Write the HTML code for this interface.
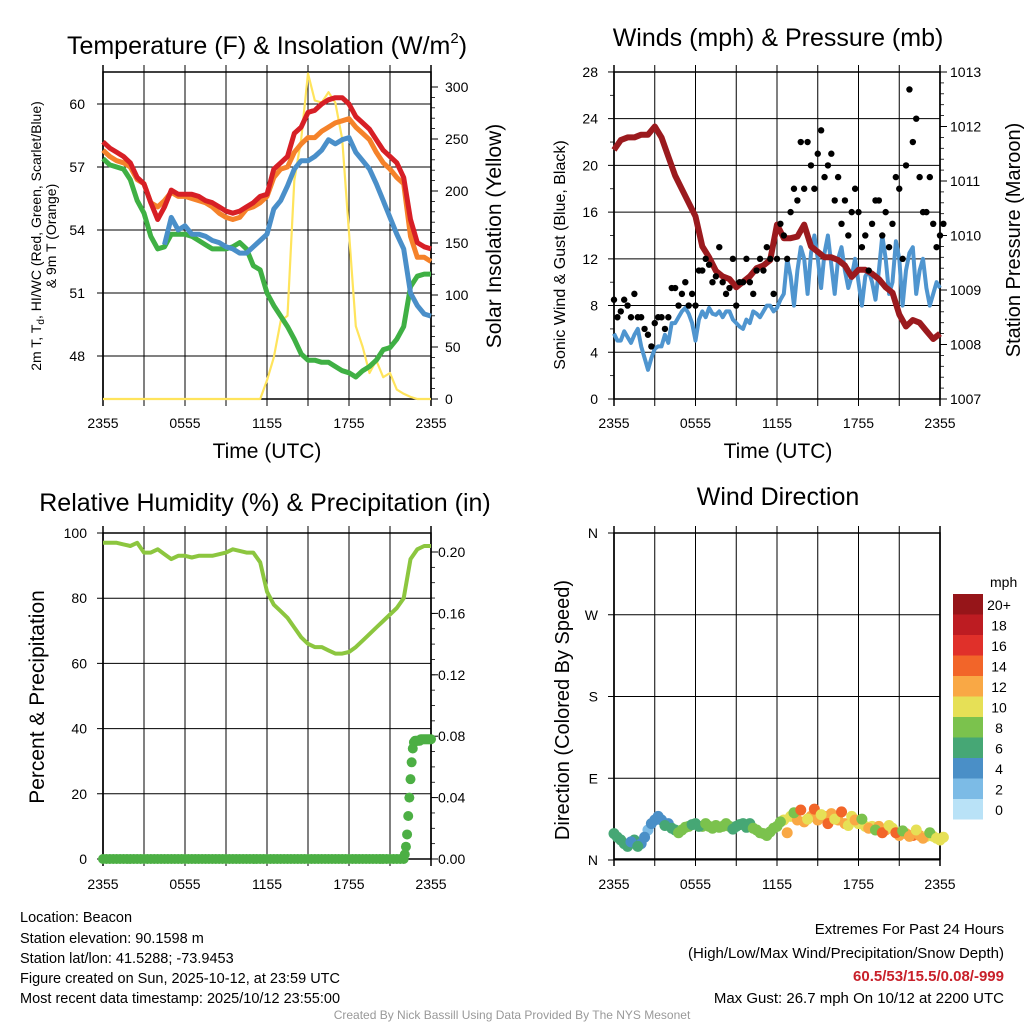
<!DOCTYPE html>
<html><head><meta charset="utf-8">
<style>
html,body{margin:0;padding:0;background:#fff;}
svg{display:block;font-family:"Liberation Sans",Arial,sans-serif;}
</style></head>
<body>
<svg id="chart" width="1024" height="1024" viewBox="0 0 1024 1024" xmlns="http://www.w3.org/2000/svg">
<rect width="1024" height="1024" fill="#fff"/>
<text x="267" y="54" text-anchor="middle" font-size="25">Temperature (F) &amp; Insolation (W/m<tspan font-size="15" dy="-11">2</tspan><tspan dy="11">)</tspan></text>
<text x="778" y="46" text-anchor="middle" font-size="25">Winds (mph) &amp; Pressure (mb)</text>
<text x="265" y="511" text-anchor="middle" font-size="25">Relative Humidity (%) &amp; Precipitation (in)</text>
<text x="778" y="505" text-anchor="middle" font-size="25">Wind Direction</text>
<text x="267" y="458" text-anchor="middle" font-size="21">Time (UTC)</text>
<text x="778" y="458" text-anchor="middle" font-size="21">Time (UTC)</text>
<text transform="translate(41,236) rotate(-90)" text-anchor="middle" font-size="14">2m T, T<tspan font-size="10" dy="3">d</tspan><tspan dy="-3">, HI/WC (Red, Green, Scarlet/Blue)</tspan></text>
<text transform="translate(56,236) rotate(-90)" text-anchor="middle" font-size="14">&amp; 9m T (Orange)</text>
<text transform="translate(501,236) rotate(-90)" text-anchor="middle" font-size="21">Solar Insolation (Yellow)</text>
<text transform="translate(565,255) rotate(-90)" text-anchor="middle" font-size="16">Sonic Wind &amp; Gust (Blue, Black)</text>
<text transform="translate(1020,240) rotate(-90)" text-anchor="middle" font-size="20">Station Pressure (Maroon)</text>
<text transform="translate(44,697) rotate(-90)" text-anchor="middle" font-size="21">Percent &amp; Precipitation</text>
<text transform="translate(569,710) rotate(-90)" text-anchor="middle" font-size="20">Direction (Colored By Speed)</text>
<g font-size="14.5">
<text x="20" y="922">Location: Beacon</text>
<text x="20" y="943">Station elevation: 90.1598 m</text>
<text x="20" y="963">Station lat/lon: 41.5288; -73.9453</text>
<text x="20" y="983">Figure created on Sun, 2025-10-12, at 23:59 UTC</text>
<text x="20" y="1003">Most recent data timestamp: 2025/10/12 23:55:00</text>
</g>
<g font-size="15" text-anchor="end">
<text x="1004" y="934">Extremes For Past 24 Hours</text>
<text x="1004" y="958">(High/Low/Max Wind/Precipitation/Snow Depth)</text>
<text x="1004" y="981" fill="#c8202a" font-weight="bold">60.5/53/15.5/0.08/-999</text>
<text x="1004" y="1003">Max Gust: 26.7 mph On 10/12 at 2200 UTC</text>
</g>
<text x="512" y="1019" text-anchor="middle" font-size="12" fill="#999">Created By Nick Bassill Using Data Provided By The NYS Mesonet</text>
</svg>
<script>
// ---- data (half-hourly from 2355 UTC) ----
const timeLabels = ["2355","0555","1155","1755","2355"];
const tempRed = [58.2,57.9,57.7,57.5,57.2,56.5,56.2,55.3,54.5,55.1,55.9,55.7,55.7,55.7,55.6,55.4,55.3,55.1,54.9,54.8,54.9,55.1,55.3,55.6,55.7,56.9,57.2,57.5,58.6,58.9,59.6,59.7,60.0,60.2,60.3,60.3,60.0,59.4,59.1,58.8,58.3,57.8,57.5,57.2,56.5,54.5,53.4,53.2,53.1];
const tempOrange = [57.8,57.5,57.3,57.2,57.0,56.4,56.2,55.3,55.1,55.4,55.8,55.6,55.6,55.5,55.4,55.3,55.1,54.8,54.6,54.5,54.6,55.0,55.1,55.3,55.6,56.5,56.9,57.0,57.7,58.1,58.4,58.4,58.7,58.9,59.1,59.2,59.3,58.9,58.6,58.3,57.7,57.2,56.9,56.5,56.2,53.7,52.7,52.7,52.5];
const tempGreen = [57.4,57.1,57.0,56.9,56.4,55.4,54.8,53.7,53.1,53.2,53.8,53.8,53.8,53.7,53.5,53.3,53.1,53.1,53.1,53.2,53.4,53.1,52.3,52.1,51.0,50.4,49.9,49.4,48.8,48.1,47.8,47.8,47.7,47.7,47.5,47.3,47.2,47.0,47.3,47.5,47.8,48.3,48.4,48.8,49.4,51.3,51.8,51.9,51.9];
const tempBlue = [null,null,null,null,null,null,null,null,null,53.3,54.6,54.0,54.2,53.8,53.8,53.7,53.5,53.4,53.2,53.1,52.9,52.9,53.2,53.5,53.8,55.0,55.4,56.1,56.9,57.3,57.3,57.5,57.8,58.3,58.1,58.3,58.4,57.7,57.3,56.9,56.2,55.4,54.6,53.8,53.1,51.0,50.4,50.0,49.9];
const solar = [0,0,0,0,0,0,0,0,0,0,0,0,0,0,0,0,0,0,0,0,0,0,0,0,18,40,75,80,210,250,313,287,285,295,285,250,160,70,50,25,37,21,25,9,5,2,0,0,0];
const windSpeed = [5.6,5.0,5.3,5.5,4.5,2.5,4.3,4.5,4.8,6.5,7.5,7.3,5.0,7.5,7.8,7.2,7.0,7.5,6.5,6.0,6.5,7.3,7.5,8.0,7.8,9.0,10.5,11,12,12.5,12,12.5,11.5,12,11,10.5,10,10.5,10,11,12,10,12,11,13,11,9.5,9,9.5];
const windSpeedQ = [5.0,5.8,4.8,6.0,3.5,3.5,4.5,5.5,6.5,7.0,7.8,6.5,6.8,7.0,7.3,7.5,7.5,6.8,6.2,6.8,7.5,7.0,8.0,7.5,8.5,12,8,13,9,14,9.5,14,9,13,9.5,12,8,11,8.5,14,9,13.5,8,12.5,9,12,8,10,9];
const gustA = [8.5,7.5,8,9,7,5.5,6.5,7,7,9.5,9,8,8,11,11.5,10.5,10,9.5,8,10,10,11,11,12,12,14,16,17,18,20,21,19,21,19,17,16,16,14,15,17,16,15,18,20,22,19,16,15,14];
const gustB = [7,8.5,7,7,6,4.5,7,6,9.5,8,10,9,11,12,10,13,9,12,10,12,9,12,13,9,15,12,18,22,22,18,23,20,17,15,14,18,13,11,17,14,13,19,12,26.5,24,16,19,13,15];
const pressure = [1011.57,1011.75,1011.8,1011.8,1011.85,1011.85,1012.0,1011.8,1011.45,1011.1,1010.85,1010.6,1010.35,1009.8,1009.6,1009.35,1009.25,1009.2,1009.05,1009.15,1009.25,1009.4,1009.45,1009.55,1010.2,1009.95,1009.95,1009.98,1010.2,1009.8,1009.7,1009.6,1009.6,1009.55,1009.45,1009.24,1009.37,1009.37,1009.3,1009.2,1009.05,1008.95,1008.55,1008.33,1008.45,1008.4,1008.25,1008.1,1008.2];
const humidity = [97,97,97,96.5,96,97,94,94,95,93.5,92,93,93,92.5,93,93,93,93.5,94,95,94.5,94,94,91,82,78,76,74,71,68,66,65,65,64,63,63,63.5,65,67,69,71,73,75,77,80,92,95,96,96];
const precipEarly = [0,0,0,0,0,0,0,0,0,0,0,0,0,0,0,0,0,0,0,0,0,0,0,0,0,0,0,0,0,0,0,0,0,0,0,0,0,0,0,0,0,0,0,0,0,0,0,0,0,0,0,0,0,0,0,0,0,0,0,0,0,0,0,0,0,0,0,0,0,0,0,0,0,0,0,0,0,0,0,0,0,0,0,0,0,0,0,0];
const precipLate = [0,0.003,0.008,0.016,0.028,0.040,0.052,0.063,0.072,0.076,0.077,0.077,0.077,0.077,0.077,0.078,0.078,0.078,0.078,0.078,0.078,0.078,0.078,0.078,0.078];
const dirA = [29,22,15,22,18,33,44,44,40,33,33,37,40,37,37,38,37,37,37,40,40,33,29,31,37,44,48,44,42,48,44,48,51,44,40,48,40,37,37,37,33,35,27,29,27,27,26,26,22];
const dirB = [25,18,20,15,25,40,48,38,35,30,36,39,37,40,35,36,40,34,39,36,35,30,27,35,42,30,52,55,45,56,50,40,45,53,38,44,45,35,33,30,38,30,32,26,33,24,30,24,25];
const tempTicks = [48,51,54,57,60];
const solarTicks = [0,50,100,150,200,250,300];
const windTicks = [0,4,8,12,16,20,24,28];
const pressTicks = [1007,1008,1009,1010,1011,1012,1013];
const rhTicks = [0,20,40,60,80,100];
const precipTicks = [0,0.04,0.08,0.12,0.16,0.20];
const dirTicks = [0,90,180,270,360];
const dirLabels = ["N","E","S","W","N"];
const legendLabels = ["20+","18","16","14","12","10","8","6","4","2","0"];
const legendColors = ["#961519","#bd1c22","#e0302a","#f26529","#f9a845","#e6e056","#7bc24d","#46a775","#4a8fc7","#7cbbe6","#b9e2f7"];

// ---- axis functions ----
const L1=103,R1=431,T1=72,B1=399, L2=614,R2=940, T3=533,B3=859;
const x1 = h => L1 + h*(R1-L1)/24;
const x2 = h => L2 + h*(R2-L2)/24;
const yT = t => 104 + (60-t)*21;
const yS = s => 399 - s*1.04;
const yW = m => 399 - m*11.68;
const yP = p => 399 - (p-1007)*54.5;
const yR = r => 859 - r*3.26;
const yPr = v => 859 - v*1535;
const yD = d => 860 - d*0.9083;
const speedColor = s => legendColors[10 - Math.max(0,Math.min(10,Math.round(s/2)))];

const svg = document.getElementById('chart');
const NS = 'http://www.w3.org/2000/svg';
function mk(tag, attrs, parent){ const e=document.createElementNS(NS,tag); for(const k in attrs) e.setAttribute(k,attrs[k]); (parent||svg).appendChild(e); return e; }
function group(name){ const g=mk('g',{}); 
 
 return g; }
function txt(g,x,y,s,anchor,size){ const t=mk('text',{x:x,y:y,'text-anchor':anchor,'font-size':size||14},g); t.textContent=s; return t; }
function pathFrom(vals, xf, yf){ let d='',pen=false; vals.forEach((v,i)=>{ if(v===null){pen=false;return;} d+=(pen?'L':'M')+xf(i*0.5).toFixed(1)+' '+yf(v).toFixed(1); pen=true;}); return d; }
function pathInterleave(a, b, xf, yf){ let d=''; a.forEach((v,i)=>{ d+=(i?'L':'M')+xf(i*0.5).toFixed(1)+' '+yf(v).toFixed(1); if(i<a.length-1) d+='L'+xf(i*0.5+0.25).toFixed(1)+' '+yf(b[i]).toFixed(1); }); return d; }

function frame(name, L, R, T, B){
  const g = group(name);
  for(let k=1;k<8;k++){ const x=L+k*(R-L)/8; mk('line',{x1:x,y1:T-7,x2:x,y2:B+7,stroke:'#000','stroke-width':1},g); }
  mk('rect',{x:L,y:T,width:R-L,height:B-T,fill:'none',stroke:'#000','stroke-width':1.5},g);
  mk('line',{x1:L,y1:T-7,x2:L,y2:B+7,stroke:'#000','stroke-width':1.5},g);
  mk('line',{x1:R,y1:T-7,x2:R,y2:B+7,stroke:'#000','stroke-width':1.5},g);
  for(let k=0;k<5;k++){ const t=txt(g,L+k*(R-L)/4,B+29,timeLabels[k],'middle',14);
     }
  return g;
}

// ===== Panel 1 =====
const g1 = frame('temperature-panel',L1,R1,T1,B1);
tempTicks.forEach(t=>{ mk('line',{x1:L1-6,y1:yT(t),x2:R1,y2:yT(t),stroke:'#000','stroke-width':1},g1); txt(g1,L1-18,yT(t)+5,String(t),'end',14); });
solarTicks.forEach(s=>{ mk('line',{x1:R1,y1:yS(s),x2:R1+7,y2:yS(s),stroke:'#000','stroke-width':1},g1); txt(g1,R1+14,yS(s)+5,String(s),'start',14); });
for(let s=10;s<310;s+=10){ mk('line',{x1:R1,y1:yS(s),x2:R1+4,y2:yS(s),stroke:'#000','stroke-width':0.8},g1); }
const lp1 = group('temperature-lines');
const s1=mk('path',{d:pathFrom(solar,x1,yS),fill:'none',stroke:'#ffe45c','stroke-width':2.2,'stroke-linejoin':'round'},lp1);

const gL=mk('path',{d:pathFrom(tempGreen,x1,yT),fill:'none',stroke:'#3fb044','stroke-width':5,'stroke-linejoin':'round'},lp1);

const bL=mk('path',{d:pathFrom(tempBlue,x1,yT),fill:'none',stroke:'#4a8fc9','stroke-width':5,'stroke-linejoin':'round'},lp1);

const oL=mk('path',{d:pathFrom(tempOrange,x1,yT),fill:'none',stroke:'#f5822a','stroke-width':5,'stroke-linejoin':'round'},lp1);

const rL=mk('path',{d:pathFrom(tempRed,x1,yT),fill:'none',stroke:'#d71f26','stroke-width':5,'stroke-linejoin':'round'},lp1);


// ===== Panel 2 =====
const g2 = frame('wind-panel',L2,R2,T1,B1);
windTicks.forEach(m=>{ if(m>0&&m<28) mk('line',{x1:L2-6,y1:yW(m),x2:R2,y2:yW(m),stroke:'#000','stroke-width':1},g2); else mk('line',{x1:L2-6,y1:yW(m),x2:L2,y2:yW(m),stroke:'#000','stroke-width':1},g2); txt(g2,L2-16,yW(m)+5,String(m),'end',14); });
for(let m=2;m<28;m+=4){ mk('line',{x1:L2-4,y1:yW(m),x2:L2,y2:yW(m),stroke:'#000','stroke-width':0.8},g2); }
pressTicks.forEach(p=>{ mk('line',{x1:R2,y1:yP(p),x2:R2+7,y2:yP(p),stroke:'#000','stroke-width':1},g2); txt(g2,R2+10,yP(p)+5,String(p),'start',14); });
for(let p=1007.2;p<1013;p+=0.2){ mk('line',{x1:R2,y1:yP(p),x2:R2+4,y2:yP(p),stroke:'#000','stroke-width':0.8},g2); }
const lp2 = group('wind-series');
const wL=mk('path',{d:pathInterleave(windSpeed,windSpeedQ,x2,yW),fill:'none',stroke:'#4f95cf','stroke-width':4,'stroke-linejoin':'round'},lp2);

const pL=mk('path',{d:pathFrom(pressure,x2,yP),fill:'none',stroke:'#9b1a1e','stroke-width':6,'stroke-linejoin':'round'},lp2);

gustA.forEach((v,i)=>{ const c=mk('circle',{cx:x2(i*0.5),cy:yW(v),r:3.2,fill:'#000'},lp2);
   });
gustB.forEach((v,i)=>{ const c=mk('circle',{cx:x2(i*0.5+0.25),cy:yW(v),r:3.2,fill:'#000'},lp2);
   });

// ===== Panel 3 =====
const g3 = frame('humidity-panel',L1,R1,T3,B3);
g3.querySelectorAll('text').forEach(t=>t.setAttribute('y',B3+30));
rhTicks.forEach(r=>{ mk('line',{x1:L1-6,y1:yR(r),x2:R1,y2:yR(r),stroke:'#000','stroke-width':1},g3); txt(g3,L1-16,yR(r)+5,String(r),'end',14); });
precipTicks.forEach(v=>{ mk('line',{x1:R1,y1:yPr(v),x2:R1+7,y2:yPr(v),stroke:'#000','stroke-width':1},g3); txt(g3,R1+7,yPr(v)+5,v.toFixed(2),'start',14); });
for(let v=0.01;v<0.2;v+=0.01){ mk('line',{x1:R1,y1:yPr(v),x2:R1+4,y2:yPr(v),stroke:'#000','stroke-width':0.8},g3); }
const lp3 = group('humidity-series');
const hL=mk('path',{d:pathFrom(humidity,x1,yR),fill:'none',stroke:'#8cc63f','stroke-width':4,'stroke-linejoin':'round'},lp3);

precipEarly.forEach((v,i)=>{ const c=mk('circle',{cx:x1(i*0.25),cy:yPr(v),r:5,fill:'#4caf44'},lp3);
   });
precipLate.forEach((v,i)=>{ const c=mk('circle',{cx:x1(22+i/12),cy:yPr(v),r:5,fill:'#4caf44'},lp3);
   });

// ===== Panel 4 =====
const g4 = frame('direction-panel',L2,R2,T3,B3);
g4.querySelectorAll('text').forEach(t=>t.setAttribute('y',B3+30));
dirTicks.forEach((d,k)=>{ mk('line',{x1:L2-6,y1:yD(d),x2:R2,y2:yD(d),stroke:'#000','stroke-width':1},g4); txt(g4,L2-16,yD(d)+5,dirLabels[k],'end',14); });
const lp4 = group('direction-points');
dirA.forEach((d,i)=>{ const c=mk('circle',{cx:x2(i*0.5),cy:yD(d),r:5.5,fill:speedColor(windSpeed[i])},lp4);
   });
dirB.forEach((d,i)=>{ const c=mk('circle',{cx:x2(i*0.5+0.25),cy:yD(d),r:5.5,fill:speedColor(windSpeedQ[i])},lp4);
   });

// legend
const lg = group('speed-legend');
txt(lg,990,587,'mph','start',14);
legendColors.forEach((c,k)=>{ const r=mk('rect',{x:953,y:594+k*20.5,width:30,height:20.5,fill:c},lg);
  
  const t=txt(lg,999,610+k*20.5,legendLabels[k],'middle',14);
   });
</script>
</body></html>
